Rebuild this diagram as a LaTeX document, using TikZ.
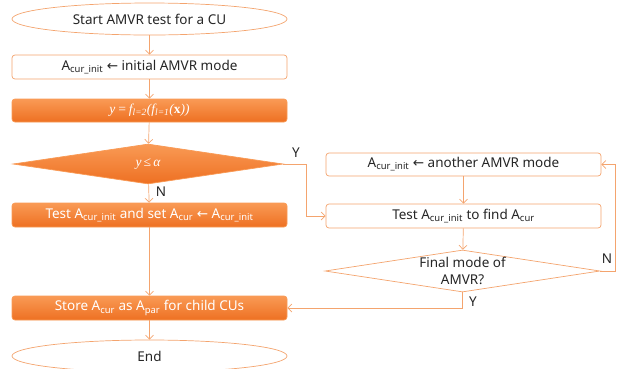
\documentclass[tikz,border=0pt]{standalone}
\usepackage{fontspec}
\setmainfont{Noto Sans}
\newfontfamily\arrfont{DejaVu Sans}
\newfontfamily\serf{Liberation Serif}
\usetikzlibrary{shapes.geometric,arrows.meta}
\definecolor{oline}{HTML}{F4A46E}
\definecolor{otop}{HTML}{F99A55}
\definecolor{obot}{HTML}{EE7022}
\newcommand{\la}{{\arrfont\char"2190}}
\begin{document}
\begin{tikzpicture}[x=1pt,y=-1pt,
  font=\fontsize{13.5}{15}\selectfont,
  base/.style={draw=oline,line width=0.7pt,inner sep=0pt,minimum width=275pt,minimum height=24pt},
  wbox/.style={base,rounded corners=3pt,fill=white,text=black!85},
  obox/.style={base,rounded corners=3pt,top color=otop,bottom color=obot,draw=otop,text=white},
  oval/.style={base,ellipse,fill=white,text=black!85,minimum height=32pt},
  wdia/.style={base,diamond,fill=white},
  odia/.style={base,diamond,top color=otop,bottom color=obot,draw=otop},
  txt/.style={inner sep=0pt,align=center},
  conn/.style={draw=oline,line width=0.7pt,-{Straight Barb[length=4pt,width=8pt]}},
  lab/.style={text=black!85,inner sep=0pt}]
\useasboundingbox (0,0) rectangle (621,368);
\node[oval] (start) at (149.5,19) {Start AMVR test for a CU};
\node[wbox] (b1) at (149.5,67) {A\textsubscript{cur\_init} \la{} initial AMVR mode};
\node[obox,minimum height=23pt] (b2) at (149.5,110.5) {{\serf\itshape y\,=\,f\textsubscript{l=2}(f\textsubscript{l=1}(\textbf{\upshape x}))}};
\node[odia,minimum width=270pt,minimum height=40pt] (d1) at (148,164) {};
\node[txt,text=white] (t1) at (d1) {\serf\itshape y\,≤\,α};
\node[obox] (b3) at (149.5,215) {Test A\textsubscript{cur\_init} and set A\textsubscript{cur} \la{} A\textsubscript{cur\_init}};
\node[obox] (b4) at (149.5,308) {Store A\textsubscript{cur} as A\textsubscript{par} for child CUs};
\node[oval] (end) at (149.5,356) {End};
\node[wbox,minimum height=23pt] (b5) at (463.5,164.5) {A\textsubscript{cur\_init} \la{} another AMVR mode};
\node[wbox] (b6) at (463.5,216) {Test A\textsubscript{cur\_init} to find A\textsubscript{cur}};
\node[wdia,minimum width=275pt,minimum height=42pt] (d2) at (462.5,271) {};
\node[txt,text=black!85,font=\fontsize{13.5}{17}\selectfont] (t2) at (d2) {Final mode of\\AMVR?};
\coordinate (c1) at (306,164);
\coordinate (c2) at (306,216);
\coordinate (c3) at (615,271);
\coordinate (c4) at (615,164.5);
\coordinate (c5) at (462.5,308);
\draw[conn] (start) -- (b1);
\draw[conn] (b1) -- (b2);
\draw[conn] (b2) -- (d1);
\draw[conn] (d1) -- (b3);
\draw[conn] (b3) -- (b4);
\draw[conn] (b4) -- (end);
\draw[conn] (d1.east) -- (c1) -- (c2) -- (b6.west);
\draw[conn] (b5) -- (b6);
\draw[conn] (b6) -- (d2);
\draw[conn] (d2.east) -- (c3) -- (c4) -- (b5.east);
\draw[conn] (d2.south) -- (c5) -- (b4.east);
\node[lab] (ly1) at (296,153) {Y};
\node[lab] (ln1) at (161,192) {N};
\node[lab] (ln2) at (607,259) {N};
\node[lab] (ly2) at (473,302) {Y};
\end{tikzpicture}
\end{document}
